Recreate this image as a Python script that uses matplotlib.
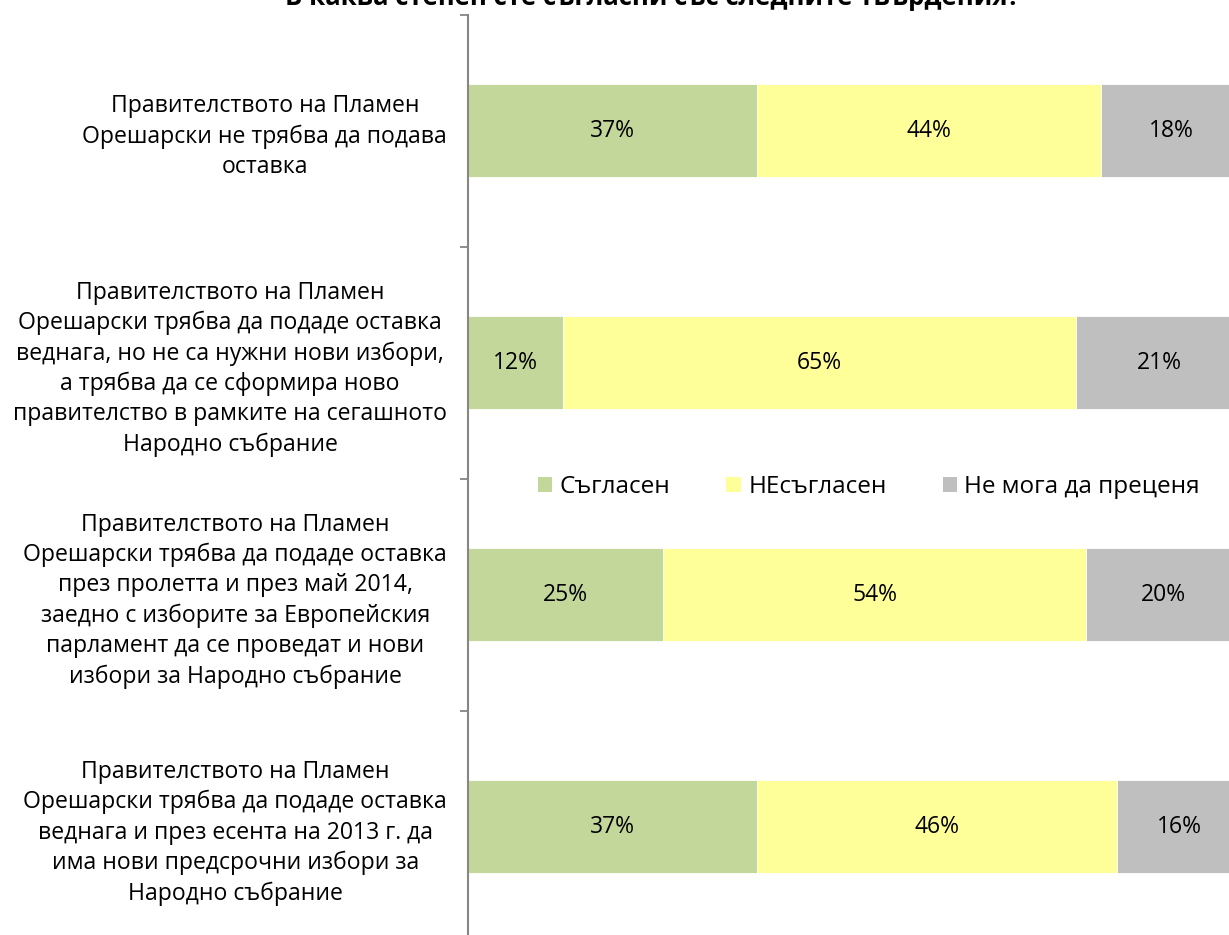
import matplotlib
matplotlib.use("Agg")
import matplotlib.pyplot as plt
from matplotlib.patches import Patch
import numpy as np

plt.rcParams['font.family'] = ['Open Sans', 'DejaVu Sans']

title = 'В каква степен сте съгласни със следните твърдения?'

statements = [
    'Правителството на Пламен\nОрешарски не трябва да подава\nоставка',
    'Правителството на Пламен\nОрешарски трябва да подаде оставка\nведнага, но не са нужни нови избори,\n'
    'а трябва да се сформира ново\nправителство в рамките на сегашното\nНародно събрание',
    'Правителството на Пламен\nОрешарски трябва да подаде оставка\nпрез пролетта и през май 2014,\n'
    'заедно с изборите за Европейския\nпарламент да се проведат и нови\nизбори за Народно събрание',
    'Правителството на Пламен\nОрешарски трябва да подаде оставка\nведнага и през есента на 2013 г. да\n'
    'има нови предсрочни избори за\nНародно събрание',
]

series_names = ['Съгласен', 'НЕсъгласен', 'Не мога да преценя']
agree = [37, 12, 25, 37]
disagree = [44, 65, 54, 46]
cant_say = [18, 21, 20, 16]

colors = ['#C4D79B', '#FFFF99', '#BFBFBF']

fig = plt.figure(figsize=(12.29, 9.35), dpi=100)
ax = fig.add_axes([468 / 1229, -0.0082, 774 / 1229, 0.9925])

values = np.array([agree, disagree, cant_say], dtype=float)
shares = values / values.sum(axis=0) * 100  # 100% stacked, like the original
y = np.arange(len(statements))

left = np.zeros(len(statements))
for i, name in enumerate(series_names):
    ax.barh(y, shares[i], left=left, height=0.4, color=colors[i],
            edgecolor='white', linewidth=0.6, label=name)
    for j in range(len(statements)):
        ax.text(left[j] + shares[i][j] / 2, y[j], f'{int(values[i][j])}%',
                ha='center', va='center', fontsize=16.5, color='black')
    left += shares[i]

ax.set_xlim(0, 100)
ax.set_ylim(len(statements) - 0.5, -0.5)

# category labels at centres, tick marks on the boundaries
ax.set_yticks(y)
ax.set_yticklabels(statements, ha='right', multialignment='center',
                   fontsize=16.6, linespacing=1.34)
ax.tick_params(axis='y', which='major', length=0, pad=15)
ax.set_yticks(np.arange(len(statements) + 1) - 0.5, minor=True)
ax.tick_params(axis='y', which='minor', length=6, width=1.3, color='#868686')
ax.set_xticks([])

for s in ['top', 'right', 'bottom']:
    ax.spines[s].set_visible(False)
ax.spines['left'].set_color('#868686')
ax.spines['left'].set_linewidth(1.5)

fig.text(0.531, 1 - 5 / 935, title, ha='center', va='baseline',
         fontsize=18.5, fontweight='bold')

handles = [Patch(facecolor=c, edgecolor='none') for c in colors]
fig.legend(handles, series_names, loc='center', ncol=3, frameon=False,
           bbox_to_anchor=(869 / 1229, 1 - 487 / 935), fontsize=17.5,
           handlelength=0.6, handleheight=0.6, handletextpad=0.3,
           columnspacing=2.3)

fig.savefig('out.png', dpi=100, facecolor='white')
